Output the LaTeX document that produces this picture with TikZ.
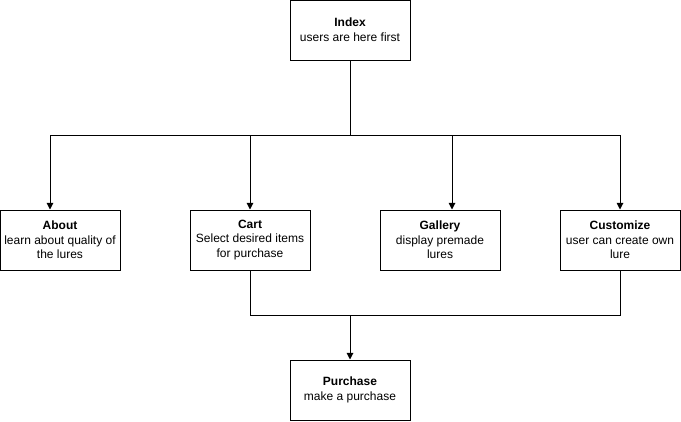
\documentclass[tikz,border=0pt]{standalone}
\usepackage{fontspec}
\setmainfont{Liberation Sans}
\usetikzlibrary{arrows.meta, positioning, calc}

\begin{document}
\begin{tikzpicture}[
        x=0.75pt, y=-0.75pt,
        box/.style={rectangle, draw, line width=0.75pt, minimum height=45pt, minimum width=90pt, align=center, font=\fontsize{9}{11}\selectfont, inner sep=0pt},
        line/.style={line width=0.75pt},
        arrow/.style={line width=0.75pt, -{Triangle[length=5pt, width=5pt]}}
    ]
        \useasboundingbox (0,0) rectangle (681,421);

        \node[box] (index) at (350,30) {\textbf{Index}\\users are here first};
        \node[box] (about) at (60,240) {\textbf{About}\\learn about quality of\\the lures};
        \node[box] (cart) at (250,240) {\textbf{Cart}\\Select desired items\\for purchase};
        \node[box] (gallery) at (440,240) {\textbf{Gallery}\\display premade\\lures};
        \node[box] (customize) at (620,240) {\textbf{Customize}\\user can create own\\lure};
        \node[box] (purchase) at (350,390) {\textbf{Purchase}\\make a purchase};

        \coordinate (split) at (350,135);
        \coordinate (join) at (350,315);

        % fan out from index
        \draw[line] (index.south) -- (split);
        \draw[line] ([xshift=-7.5pt]about.north |- split) -- (customize.north |- split);
        \draw[arrow] ([xshift=-7.5pt]about.north |- split) -- ([xshift=-7.5pt]about.north);
        \draw[arrow] (cart.north |- split) -- (cart.north);
        \draw[arrow] ([xshift=9pt]gallery.north |- split) -- ([xshift=9pt]gallery.north);
        \draw[arrow] (customize.north |- split) -- (customize.north);

        % merge into purchase
        \draw[line] (cart.south) |- (customize.south |- join) -- (customize.south);
        \draw[arrow] (join) -- (purchase.north);
    \end{tikzpicture}
\end{document}
